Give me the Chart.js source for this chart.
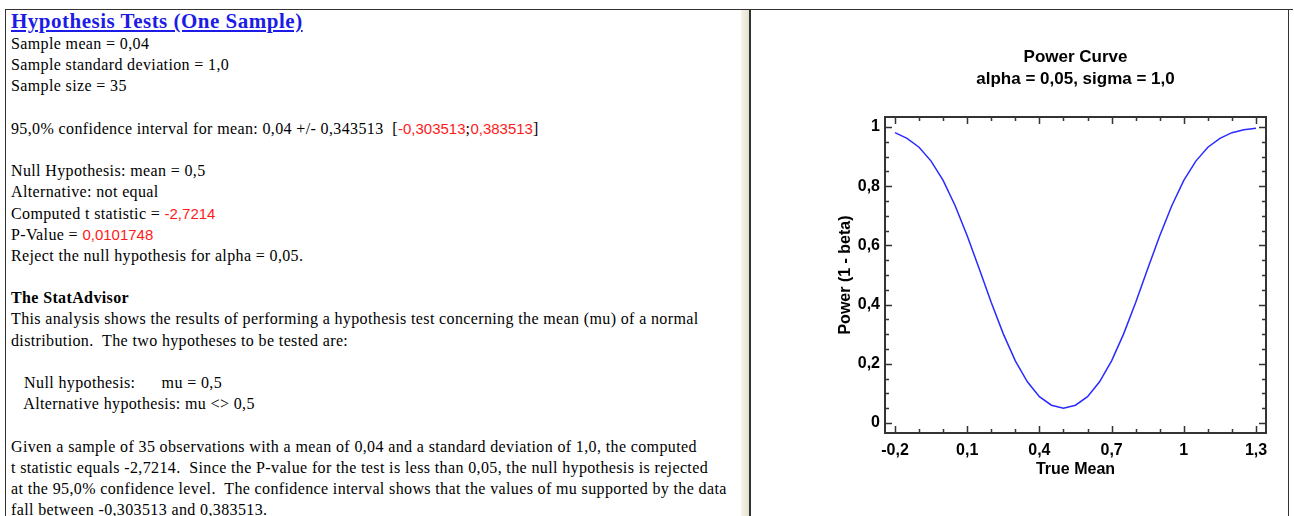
<!DOCTYPE html>
<html><head><meta charset="utf-8">
<script src="https://cdn.jsdelivr.net/npm/chart.js@4.4.1/dist/chart.umd.min.js"></script>
<style>
html,body{margin:0;padding:0;width:1294px;height:516px;overflow:hidden;background:#fff;}
#topline{position:absolute;left:5px;top:9px;width:1288px;height:1px;background:#333;}
#leftline{position:absolute;left:5px;top:9px;width:1px;height:507px;background:#333;}
#text{position:absolute;left:6px;top:10px;width:730px;height:506px;overflow:hidden;padding-left:5px;font-family:"Liberation Serif","Times New Roman",serif;font-size:16px;letter-spacing:0.37px;color:#000;}
.title{font-weight:bold;font-size:21px;letter-spacing:0.5px;line-height:23px;height:23px;color:#1c1ce6;text-decoration:underline;white-space:pre;}
.l{line-height:21.2px;height:21.2px;white-space:pre;}
.r{color:#ff1a1a;font-family:"Liberation Sans",Arial,sans-serif;font-size:15px;letter-spacing:0;}
#split{position:absolute;left:741px;top:10px;width:8px;height:506px;background:linear-gradient(to right,#f6f4ec,#e6e2cf);}
#splitline{position:absolute;left:749px;top:10px;width:2px;height:506px;background:#333;}
#rightline{position:absolute;left:1288px;top:9px;width:1px;height:507px;background:#333;}
#chartwrap{position:absolute;left:751px;top:10px;width:537px;height:506px;}
</style></head>
<body>
<div id="topline"></div>
<div id="leftline"></div>
<div id="text">
<div class="title">Hypothesis Tests (One Sample)</div>
<div class="l">Sample mean = 0,04</div>
<div class="l">Sample standard deviation = 1,0</div>
<div class="l">Sample size = 35</div>
<div class="l"> </div>
<div class="l">95,0% confidence interval for mean: 0,04 +/- 0,343513  [<span class="r">-0,303513</span>;<span class="r">0,383513</span>]</div>
<div class="l"> </div>
<div class="l">Null Hypothesis: mean = 0,5</div>
<div class="l">Alternative: not equal</div>
<div class="l">Computed t statistic = <span class="r">-2,7214</span></div>
<div class="l">P-Value = <span class="r">0,0101748</span></div>
<div class="l">Reject the null hypothesis for alpha = 0,05.</div>
<div class="l"> </div>
<div class="l"><b>The StatAdvisor</b></div>
<div class="l">This analysis shows the results of performing a hypothesis test concerning the mean (mu) of a normal</div>
<div class="l">distribution.  The two hypotheses to be tested are:</div>
<div class="l"> </div>
<div class="l">   Null hypothesis:      mu = 0,5</div>
<div class="l">   Alternative hypothesis: mu &lt;&gt; 0,5</div>
<div class="l"> </div>
<div class="l">Given a sample of 35 observations with a mean of 0,04 and a standard deviation of 1,0, the computed</div>
<div class="l">t statistic equals -2,7214.  Since the P-value for the test is less than 0,05, the null hypothesis is rejected</div>
<div class="l">at the 95,0% confidence level.  The confidence interval shows that the values of mu supported by the data</div>
<div class="l">fall between -0,303513 and 0,383513.</div>
</div>
<div id="split"></div>
<div id="splitline"></div>
<div id="rightline"></div>
<div id="chartwrap"><canvas id="c" width="537" height="506"></canvas></div>
<script>
// ---- data ----
const trueMean = [-0.2,-0.15,-0.1,-0.05,0,0.05,0.1,0.15,0.2,0.25,0.3,0.35,0.4,0.45,0.5,0.55,0.6,0.65,0.7,0.75,0.8,0.85,0.9,0.95,1.0,1.05,1.1,1.15,1.2,1.25,1.3];
const power = [0.981,0.962,0.932,0.885,0.82,0.734,0.633,0.521,0.407,0.301,0.21,0.139,0.089,0.06,0.05,0.06,0.089,0.139,0.21,0.301,0.407,0.521,0.633,0.734,0.82,0.885,0.932,0.962,0.981,0.991,0.996];
const xTickValues = [-0.2,0.1,0.4,0.7,1,1.3];
const xMinorTicks = [-0.1,0,0.2,0.3,0.5,0.6,0.8,0.9,1.1,1.2];
const yTickValues = [0,0.2,0.4,0.6,0.8,1];
const yMinorTicks = [0.05,0.1,0.15,0.25,0.3,0.35,0.45,0.5,0.55,0.65,0.7,0.75,0.85,0.9,0.95];
const chartTitle = 'Power Curve';
const chartSubtitle = 'alpha = 0,05, sigma = 1,0';
const xTitle = 'True Mean';
const yTitle = 'Power (1 - beta)';

const fmt = v => String(Math.round(v*100)/100).replace('.', ',');
const sansBold = {family:'"Liberation Sans", Arial, sans-serif', size:16, weight:'bold'};

const framePlugin = {
  id:'frame',
  afterDatasetsDraw(chart){
    const c = chart.ctx, a = chart.chartArea, xs = chart.scales.x, ys = chart.scales.y;
    c.save();
    c.strokeStyle = '#333';
    c.lineWidth = 2;
    c.strokeRect(a.left, a.top, a.right - a.left, a.bottom - a.top);
    c.lineWidth = 1.5;
    c.beginPath();
    const tx = (vals, len) => vals.forEach(v => {
      const p = Math.round(xs.getPixelForValue(v)) + 0.5;
      c.moveTo(p, a.bottom); c.lineTo(p, a.bottom - len);
      c.moveTo(p, a.top); c.lineTo(p, a.top + len);
    });
    const ty = (vals, len) => vals.forEach(v => {
      const p = Math.round(ys.getPixelForValue(v)) + 0.5;
      c.moveTo(a.left, p); c.lineTo(a.left + len, p);
      c.moveTo(a.right, p); c.lineTo(a.right - len, p);
    });
    tx(xTickValues, 7); tx(xMinorTicks, 4);
    ty(yTickValues, 7); ty(yMinorTicks, 4);
    c.stroke();
    // titles centred over the plot area
    c.fillStyle = '#000';
    c.font = 'bold 17px "Liberation Sans", Arial, sans-serif';
    c.textAlign = 'center'; c.textBaseline = 'middle';
    const cx = (a.left + a.right) / 2;
    c.fillText(chartTitle, cx, 47);
    c.fillText(chartSubtitle, cx, 69);
    c.restore();
  }
};

new Chart(document.getElementById('c'), {
  type:'line',
  data:{
    labels: trueMean,
    datasets:[{
      data: trueMean.map((x,i)=>({x:x, y:power[i]})),
      borderColor:'#2a2aff', borderWidth:1.5, pointRadius:0, tension:0, fill:false
    }]
  },
  options:{
    responsive:false, animation:false, devicePixelRatio:1,
    layout:{padding:{left:85, top:107, right:22, bottom:37}},
    plugins:{legend:{display:false}, tooltip:{enabled:false}, title:{display:false}},
    scales:{
      x:{
        type:'linear', min:-0.2415, max:1.3415,
        afterBuildTicks: s => { s.ticks = xTickValues.map(v => ({value:v})); },
        afterFit: s => { s.height = 46; },
        grid:{display:false, drawTicks:false}, border:{display:false},
        ticks:{padding:8, color:'#000', font:sansBold, callback:v=>fmt(v), maxRotation:0, autoSkip:false},
        title:{display:true, text:xTitle, color:'#000', font:sansBold, padding:0}
      },
      y:{
        type:'linear', min:-0.034, max:1.034,
        afterBuildTicks: s => { s.ticks = yTickValues.map(v => ({value:v})); },
        afterFit: s => { s.width = 49; },
        grid:{display:false, drawTicks:false}, border:{display:false},
        ticks:{padding:5, color:'#000', font:sansBold, callback:v=>fmt(v), autoSkip:false},
        title:{display:true, text:yTitle, color:'#000', font:sansBold, padding:0}
      }
    }
  },
  plugins:[framePlugin]
});
</script>
</body></html>
